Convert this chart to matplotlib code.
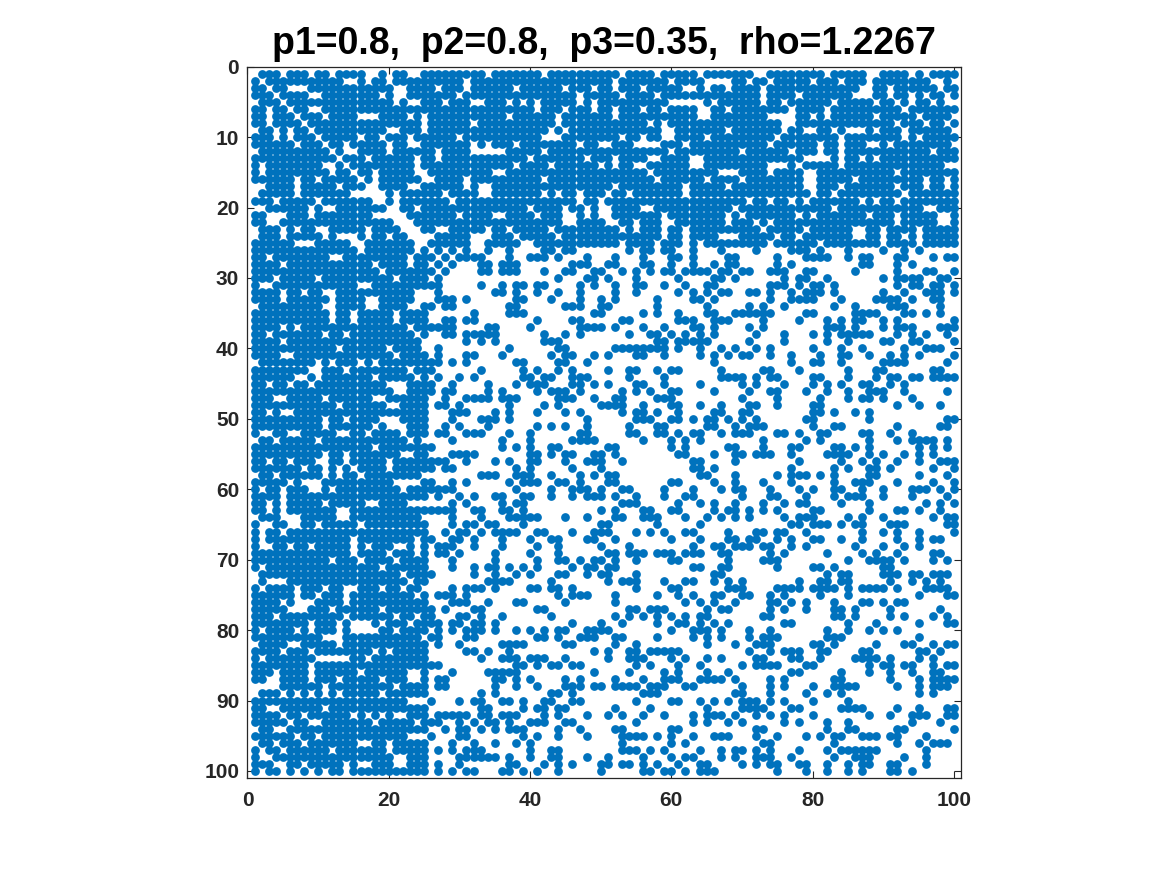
import matplotlib
matplotlib.use("Agg")
import matplotlib.pyplot as plt
import numpy as np

plt.rcParams['font.family'] = ['Liberation Sans', 'DejaVu Sans']

title_text = "p1=0.8,  p2=0.8,  p3=0.35,  rho=1.2267"
x_ticks = [0, 20, 40, 60, 80, 100]
y_ticks = [0, 10, 20, 30, 40, 50, 60, 70, 80, 90, 100]
n_nodes = 100

# Rows 1-25 are dense: each entry lists the columns right of the diagonal with NO edge.
dense_row_gaps = [
 [5,9,12,17,18,20,23,24,34,42,53,58,64,72,73,82,88,89,94,96],
 [14,15,17,20,31,52,60,65,66,67,68,71,74,80,84,88,97,98,100],
 [6,7,8,27,31,21,22,38,45,49,52,56,62,63,65,68,73,87,88,91,98],
 [9,10,19,21,22,30,47,53,58,73,78,86,87,88,91,94,96,99],
 [21,23,24,28,32,33,37,39,41,47,49,60,61,62,63,64,66,73,76,83,89,92,94,97,99,100],
 [9,10,41,45,49,52,56,59,64,65,68,77,82,93],
 [11,16,17,18,23,25,37,44,52,64,65,74,75,76,77,80,82,89,95,100],
 [25,32,44,57,59,76,77,92,96,99],
 [20,21,25,43,45,59,60,68,76,79,80,83,85,86,87,89,93,100],
 [16,19,23,30,42,43,44,53,56,59,60,65,75,84,93,95],
 [14,20,23,24,32,34,38,47,50,51,55,56,57,58,62,74,81,84,88,89,91,100],
 [14,15,20,27,32,33,34,35,36,42,60,70,77,81,84,97],
 [17,24,27,40,48,52,57,58,63,64,79,80,81,82,84,87,89],
 [24,38,43,50,52,55,56,63,64,74,75,76,78,84,99,100],
 [18,24,25,35,36,57,67,68,69,74,79,80,92],
 [18,25,26,31,42,58,65,70,79,80,86,96,99],
 [18,23,24,31,33,34,52,62,68,79,80,84,92,96,99],
 [19,21,28,33,34,42,44,47,51,54,62,80,83,93],
 [21,29,47,50,71,74,77,79,87,89,92],
 [21,24,40,45,48,50,51,56,57,69,83,96,97],
 [22,30,35,36,41,45,46,48,50,51,59,68,70,78,80,88,92,98,99],
 [23,45,46,51,52,55,59,60,68,72,74,92,98,99],
 [24,27,28,34,37,43,53,55,59,62,73,79,86,87,90,95],
 [25,26,32,33,34,38,44,59,62,67,68,69,75,78,86,87,90,93,95],
 [32,33,39,40,53,58,62,64,74,81,90,95],
]

# Rows 26-100 are sparse: each entry lists the columns right of the diagonal WITH an edge.
sparse_row_edges = [
 [27,29,31,34,37,42,43,45,46,54,56,57,59,60,63,67,72,77,78,79,81,85,90,93,95],
 [28,30,31,32,33,37,40,41,42,44,48,52,56,60,61,63,68,69,75,79,80,81,82,85,87,88,92,93,97,99,100],
 [29,33,34,36,37,38,46,47,48,51,52,56,57,60,63,66,68,69,75,77,87,88,92,94],
 [33,34,36,37,38,42,45,46,49,50,53,55,57,59,60,62,63,64,65,67,68,70,71,74,75,76,79,80,86,92,96,97,100],
 [44,48,49,51,55,61,66,67,69,76,78,79,82,90,92,93,94,95,98,99],
 [33,36,38,39,41,42,47,49,52,55,56,59,62,65,66,74,75,76,78,80,81,83,92,94,95,97,98,100],
 [35,36,38,41,44,47,52,55,61,63,65,67,68,71,72,74,77,79,80,81,83,90,93,96,97,98,100],
 [38,39,43,47,50,52,58,63,64,66,74,77,78,79,80,84,89,90,91,92,94,97,98],
 [37,38,45,46,47,50,51,58,65,71,73,76,83,86,91,92,93,98],
 [37,38,39,49,50,56,58,61,65,66,69,70,71,72,73,74,79,80,86,87,88,89,93,94,96,98],
 [41,46,47,53,54,61,62,63,66,67,68,73,78,82,84,86,87,90,92,100],
 [40,47,48,49,50,52,56,59,63,64,66,71,73,82,83,84,86,90,92,93,94,98,99,100],
 [42,45,47,54,57,58,60,62,64,66,72,76,80,82,84,85,86,87,88,92,94,96,99],
 [42,43,44,58,59,61,62,63,64,65,71,76,82,85,90,91,94,95,100],
 [44,45,52,53,54,55,56,57,58,59,61,64,67,69,72,74,80,84,87,93,96,97,98],
 [43,45,46,49,51,55,56,59,64,66,68,70,71,74,77,81,84,85,88,91,93,95,100],
 [44,45,48,66,77,80,81,84,90,91,92,93,99],
 [44,46,51,54,55,58,60,61,67,73,74,78,85,89,90,97,98],
 [46,47,48,54,59,67,68,69,70,72,74,75,80,81,85,89,91,92,94,95,97,98,99,100],
 [46,47,49,51,55,56,59,64,70,72,76,80,82,84,87,88,91,93],
 [47,53,55,57,60,61,66,71,74,75,79,82,85,88,89,90,93,99],
 [49,52,53,58,59,60,70,75,81,85,87,88,90,94],
 [50,51,52,53,56,60,61,64,67,71,72,75,80,81,92,95,98],
 [53,55,56,58,61,66,67,70,71,80,81,83,86,88],
 [55,56,57,60,61,63,65,66,68,70,72,79,80,88,99,100],
 [54,58,59,65,66,69,71,72,73,80,83,84,92,98,99],
 [54,55,58,59,61,63,64,67,69,70,71,75,76,78,81,82,87,88,91,94],
 [56,60,62,64,73,79,81,88,92,94,95,96,97,99],
 [60,62,68,69,73,77,78,83,84,86,88,95,97,99],
 [61,62,66,69,70,72,73,74,77,82,83,84,85,88,90,93,95,97],
 [63,64,69,78,84,87,89,92,95,98,99,100],
 [63,64,66,77,83,85,88,89,91,97,100],
 [64,65,69,75,77,78,79,81,83,88,89,95,99],
 [60,61,66,69,73,77,83,86,87,88,92,97,100],
 [63,67,69,70,74,78,80,83,84,87,90,94,95,96,98,100],
 [62,63,70,74,75,79,83,85,86,87,90,94,99],
 [64,66,69,73,76,78,79,84,88,96,98,100],
 [66,68,69,71,73,75,80,81,88,92,93,95,98],
 [65,67,69,71,76,78,79,80,85,87,90,97,99,100],
 [77,78,80,81,82,84,86,87,91,92,93,99,100],
 [68,72,73,75,76,79,87,90,92,95,100],
 [68,69,71,72,75,77,80,81,84,87,92,95,97,98],
 [69,70,71,73,74,77,79,86,90,93,95],
 [74,76,82,87,89,92,97,98],
 [73,74,75,85,88,89,90,91,93,97,99],
 [75,80,81,83,90,91],
 [82,84,85,90,91,92,94,95,97,98,99],
 [78,81,82,84,85,91,94,96,98],
 [75,76,77,78,80,81,82,83,85,87,88,89,90,92,96,97,98,99],
 [76,81,85,95,99,100],
 [77,79,83,87,88,90,92,93],
 [79,83,84,86,91,98],
 [83,84,86,91,93,97,99],
 [85,89,95,99,100],
 [82,85,88,90,92],
 [82,83,84,95],
 [83,89,93,94,97,99,100],
 [87,88,95,96,98],
 [86,87,88,89,91,95,97],
 [88,90,91,93,94,97,99,100],
 [88,91,94,97,98],
 [91,95,97,98,99,100],
 [92,95,97,98,99],
 [95,97],
 [],
 [92,95,99,100],
 [94,95,96,99,100],
 [94,98],
 [100],
 [96],
 [97,98,99],
 [],
 [],
 [],
 [],
]

# Assemble the symmetric adjacency pattern from the row lists.
rows, cols = [], []
for r, gaps in enumerate(dense_row_gaps, start=1):
    for c in range(r + 1, n_nodes + 1):
        if c not in gaps:
            rows.append(r); cols.append(c)
for r, edges in enumerate(sparse_row_edges, start=26):
    for c in edges:
        if c > r:
            rows.append(r); cols.append(c)
rows = np.array(rows); cols = np.array(cols)

fig = plt.figure(figsize=(11.67, 8.75), dpi=100)
W, H = 1167, 875
ax = fig.add_axes([247.5 / W, 1 - 778 / H, (961 - 247.5) / W, (778 - 66.7) / H])
ax.plot(np.r_[cols, rows], np.r_[rows, cols], linestyle='none', marker='o',
        markersize=6.3, markeredgewidth=0, color='#0072BD', clip_on=True)
ax.set_xlim(0, 101)
ax.set_ylim(101, 0)
ax.set_xticks(x_ticks)
ax.set_yticks(y_ticks)
ax.tick_params(direction='in', top=True, right=True, length=5, width=0.8,
               color='#262626', labelcolor='#262626', labelsize=15)
ax.tick_params(axis='x', pad=9)
ax.tick_params(axis='y', pad=6)
for lab in ax.get_xticklabels() + ax.get_yticklabels():
    lab.set_fontweight('bold')
for s in ax.spines.values():
    s.set_linewidth(0.9)
    s.set_color('#262626')
ax.set_title(title_text, fontsize=27, fontweight='bold', color='black', pad=9.5)
fig.savefig('out.png', dpi=100, facecolor='white')
